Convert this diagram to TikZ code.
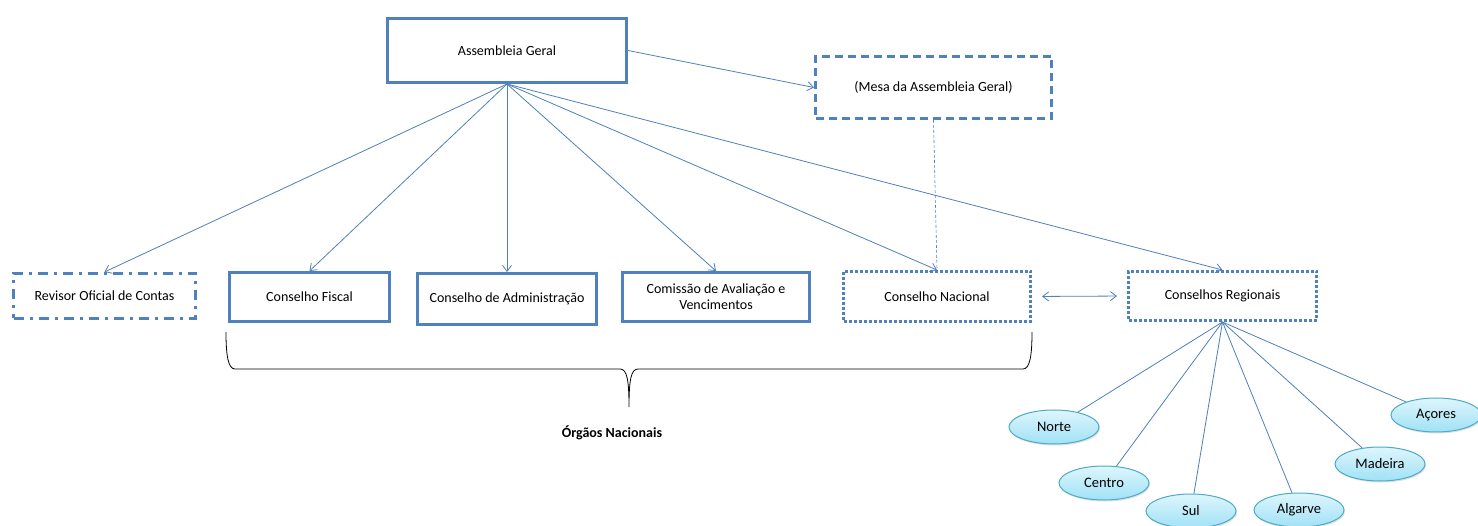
\documentclass[tikz,border=0pt]{standalone}
\usepackage{fontspec}
\setmainfont{Carlito}
\usetikzlibrary{arrows.meta,shapes.geometric,shadows}
\definecolor{ocblue}{RGB}{79,129,189}
\definecolor{elborder}{RGB}{75,172,198}
\definecolor{eltop}{RGB}{222,245,252}
\definecolor{elbot}{RGB}{160,226,246}
\tikzset{
  basebox/.style={draw=ocblue, line width=3pt, align=center, font=\fontsize{14}{16}\selectfont, inner sep=2pt},
  solidbox/.style={basebox},
  dashbox/.style={basebox, dash pattern=on 8pt off 5pt},
  dashdotbox/.style={basebox, dash pattern=on 10pt off 6pt on 3pt off 6pt},
  dotbox/.style={basebox, dash pattern=on 3pt off 2pt},
  conn/.style={draw=ocblue, line width=0.8pt, -{Straight Barb[length=6pt,width=9pt]}},
  plainconn/.style={draw=ocblue, line width=0.8pt},
  region/.style={ellipse, draw=elborder, line width=1pt, top color=eltop, bottom color=elbot,
    minimum width=90pt, minimum height=34pt, inner sep=0pt, font=\fontsize{14.5}{16}\selectfont,
    drop shadow={shadow xshift=1pt, shadow yshift=-1.5pt, opacity=0.25}},
}
\begin{document}
\begin{tikzpicture}[x=1pt,y=-1pt]
\useasboundingbox[fill=white] (0,0) rectangle (1478,526);
\node[solidbox, minimum width=239pt, minimum height=64pt] (ag) at (507,50.5) {Assembleia Geral};
\node[dashbox, minimum width=236pt, minimum height=62pt] (mesa) at (933.5,87.5) {(Mesa da Assembleia Geral)};
\node[dashdotbox, minimum width=182pt, minimum height=45pt] (roc) at (104.5,296) {Revisor Oficial de Contas};
\node[solidbox, minimum width=160pt, minimum height=49pt] (cf) at (309.5,297) {Conselho Fiscal};
\node[solidbox, minimum width=179pt, minimum height=51pt] (ca) at (507,299) {Conselho de Administração};
\node[solidbox, minimum width=187pt, minimum height=49pt] (cav) at (716,297) {Comissão de Avaliação e\\Vencimentos};
\node[dotbox, minimum width=187pt, minimum height=50pt] (cn) at (937,296.5) {Conselho Nacional};
\node[dotbox, minimum width=188pt, minimum height=49pt] (cr) at (1222.5,296) {Conselhos Regionais};

\draw[conn] (ag.south) -- (roc.north);
\draw[conn] (ag.south) -- (cf.north);
\draw[conn] (ag.south) -- (ca.north);
\draw[conn] (ag.south) -- (cav.north);
\draw[conn] (ag.south) -- (cn.north);
\draw[conn] (ag.south) -- (cr.north);
\draw[conn] (ag.east) -- (mesa.west);
\draw[plainconn, line width=0.6pt, dash pattern=on 3pt off 2pt] (mesa.south) -- (cn.north);
\draw[conn, {Straight Barb[length=6pt,width=9pt]}-{Straight Barb[length=6pt,width=9pt]}, shorten <=10pt, shorten >=10pt] (cn.east) -- (cr.west);

\node[region] (norte) at (1054,427) {Norte};
\node[region] (centro) at (1104,483) {Centro};
\node[region] (sul) at (1191,511) {Sul};
\node[region] (algarve) at (1299,510) {Algarve};
\node[region] (madeira) at (1380,464) {Madeira};
\node[region] (acores) at (1436,415) {Açores};
\foreach \r in {norte,centro,sul,algarve,madeira,acores}
  \draw[plainconn] (cr.south) -- (\r);

\draw[black, line width=0.8pt] (226,332) .. controls (226,355) and (228,369) .. (235,369) -- (620,369)
  .. controls (627,369) and (629,380) .. (629,407) .. controls (629,380) and (631,369) .. (638,369)
  -- (1023,369) .. controls (1030,369) and (1032,355) .. (1032,332);
\node[font=\bfseries\fontsize{14}{16}\selectfont] (orgaos) at (612,433) {Órgãos Nacionais};
\end{tikzpicture}
\end{document}
